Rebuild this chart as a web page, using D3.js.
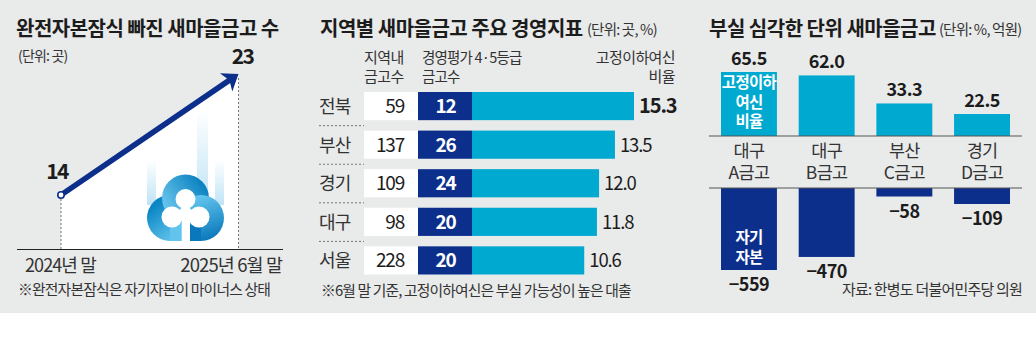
<!DOCTYPE html>
<html>
<head>
<meta charset="utf-8">
<script src="https://cdn.jsdelivr.net/npm/d3@7"></script>
<style>
  html, body { margin: 0; padding: 0; background: #fff; }
  svg { display: block; }
  text { font-family: "Noto Sans CJK KR", "Noto Sans", sans-serif; }
</style>
</head>
<body>
<svg id="drawing_region" width="1036" height="351"></svg>
<script>
// panel 1
const trend_labels = ['2024년 말', '2025년 6월 말'];
const trend_values = [14, 23];

// panel 2
const regions = ['전북', '부산', '경기', '대구', '서울'];
const region_counts = [59, 137, 109, 98, 228];
const grade_counts = [12, 26, 24, 20, 20];
const region_ratios = [15.3, 13.5, 12.0, 11.8, 10.6];

// panel 3
const bank_regions = ['대구', '대구', '부산', '경기'];
const bank_names = ['A금고', 'B금고', 'C금고', 'D금고'];
const bank_ratios = [65.5, 62.0, 33.3, 22.5];
const bank_capital = [-559, -470, -58, -109];

const navy = '#0d2f8c', cyan = '#00a9cf', bg = '#e9eaea', ink = '#1c1c1c', soft = '#333';
const svg = d3.select('#drawing_region');

svg.append('rect').attr('width', 1036).attr('height', 313).attr('fill', bg);

function label(x, y, str, opt = {}) {
    return svg.append('text')
        .attr('x', x).attr('y', y)
        .attr('text-anchor', opt.anchor || 'start')
        .attr('font-size', opt.size || 14)
        .attr('font-weight', opt.weight || 400)
        .attr('letter-spacing', opt.ls === undefined ? '-0.6' : opt.ls)
        .style('fill', opt.color || ink)
        .text(str);
}

// stacked lines stay in one text element
function stacked(x, y, lines, step, opt = {}) {
    const t = label(x, y, '', opt);
    lines.forEach((s, i) => {
        t.append('tspan').attr('x', x).attr('y', y + i * step).text(s);
    });
    return t;
}

// ---- panel 1 ----
const x1 = d3.scaleOrdinal().domain(trend_labels).range([61, 238.5]);
const y1 = d3.scaleLinear().domain([14, 23]).range([195, 74]);
const base1 = 249.5;

const p0 = [x1(trend_labels[0]), y1(trend_values[0])];
const p1 = [x1(trend_labels[1]), y1(trend_values[1])];

svg.append('path')
    .attr('d', d3.line()([p0, p1, [p1[0], base1], [p0[0], base1]]) + 'Z')
    .attr('fill', '#fff');

const defs = svg.append('defs');
function gradient(id, x_1, y_1, x_2, y_2, c1, c2, o1 = 1, o2 = 1) {
    const g = defs.append('linearGradient').attr('id', id)
        .attr('x1', x_1).attr('y1', y_1).attr('x2', x_2).attr('y2', y_2);
    g.append('stop').attr('offset', '0%').attr('stop-color', c1).attr('stop-opacity', o1);
    g.append('stop').attr('offset', '100%').attr('stop-color', c2).attr('stop-opacity', o2);
}
gradient('streak', 0, 1, 0, 0, '#bfe3f5', '#bfe3f5', 1, 0);
gradient('lobe_top', 0.1, 0.8, 0.9, 0.2, '#6cc8ee', '#0a80c0');
gradient('lobe_left', 0.2, 0.2, 0.7, 0.9, '#0a86c4', '#62c4ec');
gradient('lobe_right', 0.3, 0.1, 0.6, 1, '#62c4ec', '#0a78bc');
defs.append('clipPath').attr('id', 'right_half')
    .append('rect').attr('x', 186).attr('y', 170).attr('width', 50).attr('height', 71);
defs.append('clipPath').attr('id', 'left_half')
    .append('rect').attr('x', 140).attr('y', 170).attr('width', 46).attr('height', 71);

// logo streaks
[[147, 160, 156], [197, 110, 208], [215, 160, 224]].forEach(s => {
    svg.append('rect').attr('x', s[0]).attr('y', s[1])
        .attr('width', s[2] - s[0]).attr('height', 205 - s[1])
        .attr('fill', 'url(#streak)');
});

// logo: three lobes, then a white clover on top
const logo = svg.append('g');
logo.append('circle').attr('cx', 170).attr('cy', 218).attr('r', 23)
    .attr('fill', 'url(#lobe_left)').attr('clip-path', 'url(#left_half)');
logo.append('rect').attr('x', 170).attr('y', 222).attr('width', 16).attr('height', 19)
    .attr('fill', '#62c4ec');
logo.append('circle').attr('cx', 185.5).attr('cy', 198).attr('r', 23.5)
    .attr('fill', 'url(#lobe_top)');
logo.append('circle').attr('cx', 201).attr('cy', 218).attr('r', 23)
    .attr('fill', 'url(#lobe_right)').attr('clip-path', 'url(#right_half)');
logo.append('rect').attr('x', 186).attr('y', 224).attr('width', 15).attr('height', 17)
    .attr('fill', '#0a78bc');
[[185.5, 199, 10], [172, 217, 10.5], [199, 217, 10.5], [185.5, 212, 6]].forEach(c => {
    logo.append('circle').attr('cx', c[0]).attr('cy', c[1]).attr('r', c[2]).attr('fill', '#fff');
});
logo.append('rect').attr('x', 181.7).attr('y', 205).attr('width', 8.3).attr('height', 36.5)
    .attr('fill', '#fff');

// arrow shaft and head
const dx = p1[0] - p0[0], dy = p1[1] - p0[1], len = Math.hypot(dx, dy);
const ux = dx / len, uy = dy / len;
svg.append('line')
    .attr('x1', p0[0]).attr('y1', p0[1])
    .attr('x2', p1[0] - ux * 10).attr('y2', p1[1] - uy * 10)
    .attr('stroke', navy).attr('stroke-width', 5.5);
svg.append('path')
    .attr('d', 'M0 0 L-15 -11 L-11 0 L-15 11 Z')
    .attr('transform', `translate(${p1[0]}, ${p1[1]}) rotate(${Math.atan2(dy, dx) * 180 / Math.PI})`)
    .attr('fill', navy);
svg.append('circle').attr('cx', p0[0]).attr('cy', p0[1]).attr('r', 3.2)
    .attr('fill', '#fff').attr('stroke', navy).attr('stroke-width', 1.6);

[p0, p1].forEach(p => {
    svg.append('line')
        .attr('x1', p[0]).attr('x2', p[0]).attr('y1', p[1] + 4).attr('y2', base1)
        .attr('stroke', '#555').attr('stroke-width', 0.8).attr('stroke-dasharray', '2,2');
});
svg.append('line').attr('x1', 17).attr('x2', 283).attr('y1', base1).attr('y2', base1)
    .attr('stroke', '#222').attr('stroke-width', 1);

label(16, 36, '완전자본잠식 빠진 새마을금고 수', { size: 20, weight: 700, ls: '-0.5' });
label(18, 61, '(단위: 곳)', { size: 14, ls: '-0.8', color: soft });
label(p0[0] - 4, 179, trend_values[0], { size: 21, weight: 700, anchor: 'middle', ls: '-1.6' });
label(p1[0] + 4, 64, trend_values[1], { size: 21, weight: 700, anchor: 'middle', ls: '-1.6' });
label(25, 272, trend_labels[0], { size: 18, ls: '-0.9', color: soft });
label(282, 272, trend_labels[1], { size: 18.5, ls: '-0.9', anchor: 'end', color: soft });
label(18, 295, '※완전자본잠식은 자기자본이 마이너스 상태', { size: 14.8, ls: '-0.8', color: soft });

// ---- panel 2 ----
const y2 = d3.scaleBand().domain(regions).range([92, 274.5]).paddingInner(0.27);
const x2 = d3.scaleLinear().domain([0, 15.3]).range([472, 634]);

label(320, 36, '지역별 새마을금고 주요 경영지표', { size: 20, weight: 700, ls: '-0.5' });
label(587, 35, '(단위: 곳, %)', { size: 14.5, ls: '-0.8', color: soft });
stacked(364, 63, ['지역내', '금고수'], 18.5, { size: 15, color: soft });
stacked(422, 63, ['경영평가 4·5등급', '금고수'], 18.5, { size: 14.5, ls: '-0.8', color: soft });
stacked(675, 63, ['고정이하여신', '비율'], 18.5, { size: 15, anchor: 'end', color: soft });

regions.forEach((r, i) => {
    const y = y2(r), h = y2.bandwidth(), mid = y + h / 2;
    svg.append('rect').attr('x', 364).attr('y', y).attr('width', 54).attr('height', h).attr('fill', '#fff');
    svg.append('rect').attr('x', 418).attr('y', y).attr('width', 54).attr('height', h).attr('fill', navy);
    svg.append('rect').attr('x', 472).attr('y', y).attr('width', x2(region_ratios[i]) - 472).attr('height', h).attr('fill', cyan);

    label(319, mid + 7, r, { size: 18, ls: '-0.8', color: soft });
    label(404, mid + 7, region_counts[i], { size: 19, anchor: 'end', ls: '-1.2' });
    label(445.5, mid + 7, grade_counts[i], { size: 19, weight: 700, anchor: 'middle', ls: '-1.3', color: '#fff' });
    label(x2(region_ratios[i]) + 5, mid + 7, region_ratios[i].toFixed(1), {
        size: i === 0 ? 20 : 18.5,
        weight: i === 0 ? 700 : 400,
        ls: '-1.1'
    });
    if (i < regions.length - 1) {
        svg.append('line').attr('x1', 319).attr('x2', 364)
            .attr('y1', y + h + 5.5).attr('y2', y + h + 5.5)
            .attr('stroke', '#555').attr('stroke-width', 0.8).attr('stroke-dasharray', '2,2');
    }
});
label(321, 296, '※6월 말 기준, 고정이하여신은 부실 가능성이 높은 대출', { size: 14.8, ls: '-0.85', color: soft });

// ---- panel 3 ----
const x3 = d3.scaleBand().domain(bank_names).range([721, 1010]).paddingInner(0.28);
const y3_top = d3.scaleLinear().domain([0, 65.5]).range([136, 72]);
const y3_bot = d3.scaleLinear().domain([0, -559]).range([188, 270]);

label(709, 36, '부실 심각한 단위 새마을금고', { size: 20, weight: 700, ls: '-0.5' });
label(939, 35, '(단위: %, 억원)', { size: 14.5, ls: '-0.8', color: soft });

bank_names.forEach((n, i) => {
    const x = x3(n), w = x3.bandwidth(), cx = x + w / 2;
    const top = y3_top(bank_ratios[i]), bot = y3_bot(bank_capital[i]);
    svg.append('rect').attr('x', x).attr('y', top).attr('width', w).attr('height', 136 - top).attr('fill', cyan);
    svg.append('rect').attr('x', x).attr('y', 188).attr('width', w).attr('height', bot - 188).attr('fill', navy);
    label(cx, top - 7, bank_ratios[i].toFixed(1), { size: 18, weight: 700, anchor: 'middle', ls: '-0.5' });
    label(cx, bot + 21, '−' + Math.abs(bank_capital[i]), { size: 18, weight: 700, anchor: 'middle', ls: '-0.5' });
    stacked(cx, 157, [bank_regions[i], n], 22, { size: 17.5, anchor: 'middle', ls: '-0.7', color: soft });
});

const cx0 = x3(bank_names[0]) + x3.bandwidth() / 2;
stacked(cx0, 88, ['고정이하', '여신', '비율'], 19.5, { size: 15.5, weight: 700, anchor: 'middle', ls: '-0.7', color: '#fff' });
stacked(cx0, 243, ['자기', '자본'], 20, { size: 15.5, weight: 700, anchor: 'middle', ls: '-0.7', color: '#fff' });

[136, 188].forEach(y => {
    svg.append('line').attr('x1', 709).attr('x2', 1022).attr('y1', y).attr('y2', y)
        .attr('stroke', '#555').attr('stroke-width', 1.2);
});
label(1022, 295, '자료: 한병도 더불어민주당 의원', { size: 15, anchor: 'end', ls: '-0.8', color: soft });
</script>
</body>
</html>
